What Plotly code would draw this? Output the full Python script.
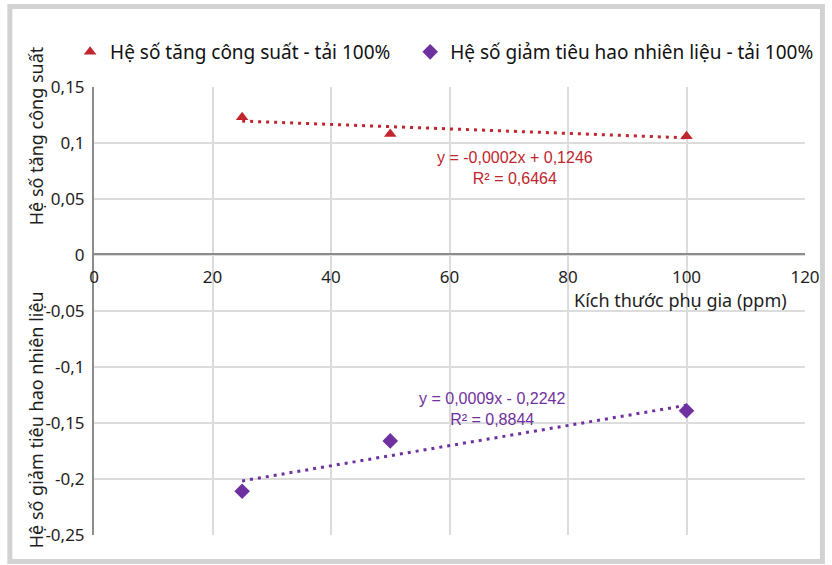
import plotly.graph_objects as go

# Additive size (ppm) and the two measured coefficients at 100% load
sizes_ppm = [25, 50, 100]
power_gain = [0.123, 0.108, 0.106]
fuel_reduction = [-0.211, -0.166, -0.139]

# Linear trendline coefficients (slope, intercept, R²)
power_fit = (-0.0002, 0.1246, 0.6464)
fuel_fit = (0.0009, -0.2242, 0.8844)

x_ticks = [0, 20, 40, 60, 80, 100, 120]
y_ticks = [0.15, 0.1, 0.05, 0, -0.05, -0.1, -0.15, -0.2, -0.25]
y_tick_text = ["0,15", "0,1", "0,05", "0", "-0,05", "-0,1", "-0,15", "-0,2", "-0,25"]

RED = "#C0262D"
PURPLE = "#7031A0"
FONT = "Noto Sans"
TXT = "#1e1e1e"

W, H = 832, 565
ML, MR, MT, MB = 94, 24, 87, 30
PW, PH = W - ML - MR, H - MT - MB


def px_x(p):
    return (p - ML) / PW


def px_y(p):
    return 1 - (p - MT) / PH


def trend(fit, xs):
    return [fit[0] * x + fit[1] for x in xs]


def fmt(v, nd):
    return f"{abs(v):.{nd}f}".replace(".", ",")


fig = go.Figure()

# non-breaking spaces widen the gap before the second legend entry
fig.add_trace(go.Scatter(
    x=sizes_ppm, y=power_gain, mode="markers",
    name="Hệ số tăng công suất - tải 100%" + "\u00a0" * 3,
    marker=dict(symbol="triangle-up", size=11, color=RED),
))
fig.add_trace(go.Scatter(
    x=sizes_ppm, y=fuel_reduction, mode="markers",
    name="Hệ số giảm tiêu hao nhiên liệu - tải 100%",
    marker=dict(symbol="diamond", size=12, color=PURPLE),
))

trend_x = [sizes_ppm[0], sizes_ppm[-1]]
fig.add_trace(go.Scatter(
    x=trend_x, y=trend(power_fit, trend_x), mode="lines", showlegend=False,
    line=dict(color=RED, width=3, dash="3px,5px"),
))
fig.add_trace(go.Scatter(
    x=trend_x, y=trend(fuel_fit, trend_x), mode="lines", showlegend=False,
    line=dict(color=PURPLE, width=3, dash="3px,5px"),
))

grid = "#dcdcdc"
fig.update_xaxes(
    range=[0, 120], tickvals=x_ticks, ticktext=[str(v) for v in x_ticks],
    showgrid=True, gridcolor=grid, gridwidth=2,
    zeroline=False, showline=True, linecolor="#8c8c8c", linewidth=2,
    anchor="free", position=(MT + PH - 254) / PH,
    ticks="", tickfont=dict(family=FONT, size=17, color=TXT),
    ticklabelstandoff=8,
)
fig.update_yaxes(
    range=[-0.25, 0.15], tickvals=y_ticks, ticktext=y_tick_text,
    showgrid=True, gridcolor=grid, gridwidth=2,
    zeroline=False, showline=True, linecolor="#8c8c8c", linewidth=2,
    ticks="", tickfont=dict(family=FONT, size=17, color=TXT),
    ticklabelstandoff=4,
)

annotations = [
    dict(text="Kích thước phụ gia (ppm)", x=px_x(792), y=px_y(300),
         xanchor="right", yanchor="middle", showarrow=False,
         font=dict(family=FONT, size=18, color=TXT)),
    dict(text="Hệ số tăng công suất", x=px_x(36), y=px_y(136),
         textangle=-90, xanchor="center", yanchor="middle", showarrow=False,
         font=dict(family=FONT, size=18, color=TXT)),
    dict(text="Hệ số giảm tiêu hao nhiên liệu", x=px_x(36), y=px_y(420),
         textangle=-90, xanchor="center", yanchor="middle", showarrow=False,
         font=dict(family=FONT, size=18, color=TXT)),
    dict(text=f"y = -{fmt(power_fit[0], 4)}x + {fmt(power_fit[1], 4)}<br>R² = {fmt(power_fit[2], 4)}",
         x=px_x(517), y=px_y(168), xanchor="center", yanchor="middle", showarrow=False,
         align="center", font=dict(family="Liberation Sans", size=16, color=RED)),
    dict(text=f"y = {fmt(fuel_fit[0], 4)}x - {fmt(fuel_fit[1], 4)}<br>R² = {fmt(fuel_fit[2], 4)}",
         x=px_x(494), y=px_y(409), xanchor="center", yanchor="middle", showarrow=False,
         align="center", font=dict(family="Liberation Sans", size=16, color=PURPLE)),
]
for a in annotations:
    a.update(xref="paper", yref="paper")

shapes = [
    dict(type="rect", xref="paper", yref="paper",
         x0=px_x(9.5), x1=px_x(825.5), y0=px_y(561.5), y1=px_y(6.5),
         line=dict(color="#d2d2d2", width=5), fillcolor="rgba(0,0,0,0)", layer="below"),
]

fig.update_layout(
    width=W, height=H,
    margin=dict(l=ML, r=MR, t=MT, b=MB),
    paper_bgcolor="white", plot_bgcolor="white",
    font=dict(family=FONT, size=18, color=TXT),
    showlegend=True,
    legend=dict(orientation="h", x=px_x(70), y=px_y(52), xanchor="left", yanchor="middle",
                font=dict(family=FONT, size=19, color="#111"),
                itemwidth=30, tracegroupgap=0, bgcolor="rgba(0,0,0,0)"),
    annotations=annotations,
    shapes=shapes,
)

fig.write_html("out.html")
